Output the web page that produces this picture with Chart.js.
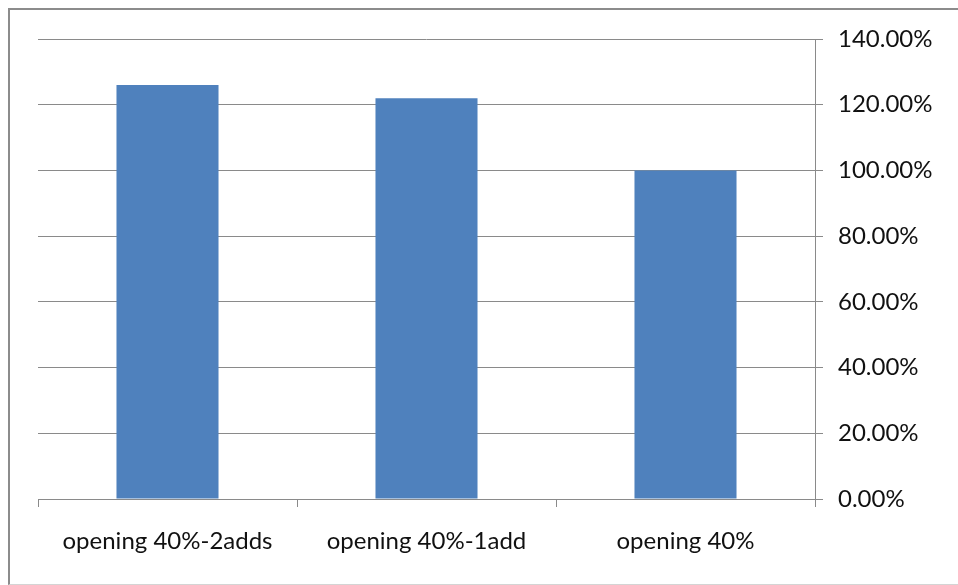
<!DOCTYPE html>
<html>
<head>
<meta charset="utf-8">
<script src="https://cdn.jsdelivr.net/npm/chart.js@4/dist/chart.umd.min.js"></script>
<style>
  html, body { margin: 0; padding: 0; background: #fff; }
  #wrap { position: relative; width: 958px; height: 585px; overflow: hidden; }
  #frame {
    position: absolute; left: 8px; top: 8px; width: 1000px; height: 574px;
    border-top: 2px solid #8c8c8c; border-left: 2px solid #8c8c8c;
    border-bottom: 1px solid #d4d4d4;
  }
  canvas { position: absolute; left: 0; top: 0; }
</style>
</head>
<body>
<div id="wrap">
  <div id="frame"></div>
  <canvas id="grafico" width="958" height="585"></canvas>
</div>
<script>
const categorias = ["opening 40%-2adds", "opening 40%-1add", "opening 40%"];
const valores = [126, 122, 100];
const ejeMin = 0;
const ejeMax = 140;
const ejePaso = 20;

const fuente = { family: "Lato, 'Open Sans', sans-serif", size: 24 };
const gris = "#8a8a8a";

new Chart(document.getElementById("grafico"), {
  type: "bar",
  data: {
    labels: categorias,
    datasets: [{
      data: valores,
      backgroundColor: "#4f81bd",
      borderWidth: 0,
      barPercentage: 0.394,
      categoryPercentage: 1
    }]
  },
  options: {
    responsive: false,
    animation: false,
    layout: { padding: { left: 38, top: 39, right: 0, bottom: 0 } },
    plugins: { legend: { display: false }, tooltip: { enabled: false } },
    scales: {
      x: {
        offset: true,
        grid: { offset: true, drawOnChartArea: false, drawTicks: true, tickLength: 8, color: gris },
        border: { display: true, color: gris },
        ticks: { color: "#111", font: fuente, padding: 20, maxRotation: 0 },
        afterFit: (s) => { s.height = 86; }
      },
      y: {
        position: "right",
        min: ejeMin,
        max: ejeMax,
        grid: { color: gris, tickLength: 8, drawTicks: true },
        border: { display: true, color: gris },
        ticks: {
          stepSize: ejePaso,
          color: "#111",
          font: fuente,
          padding: 15,
          callback: (v) => v.toFixed(2) + "%"
        },
        afterFit: (s) => { s.width = 143; }
      }
    }
  }
});
</script>
</body>
</html>
